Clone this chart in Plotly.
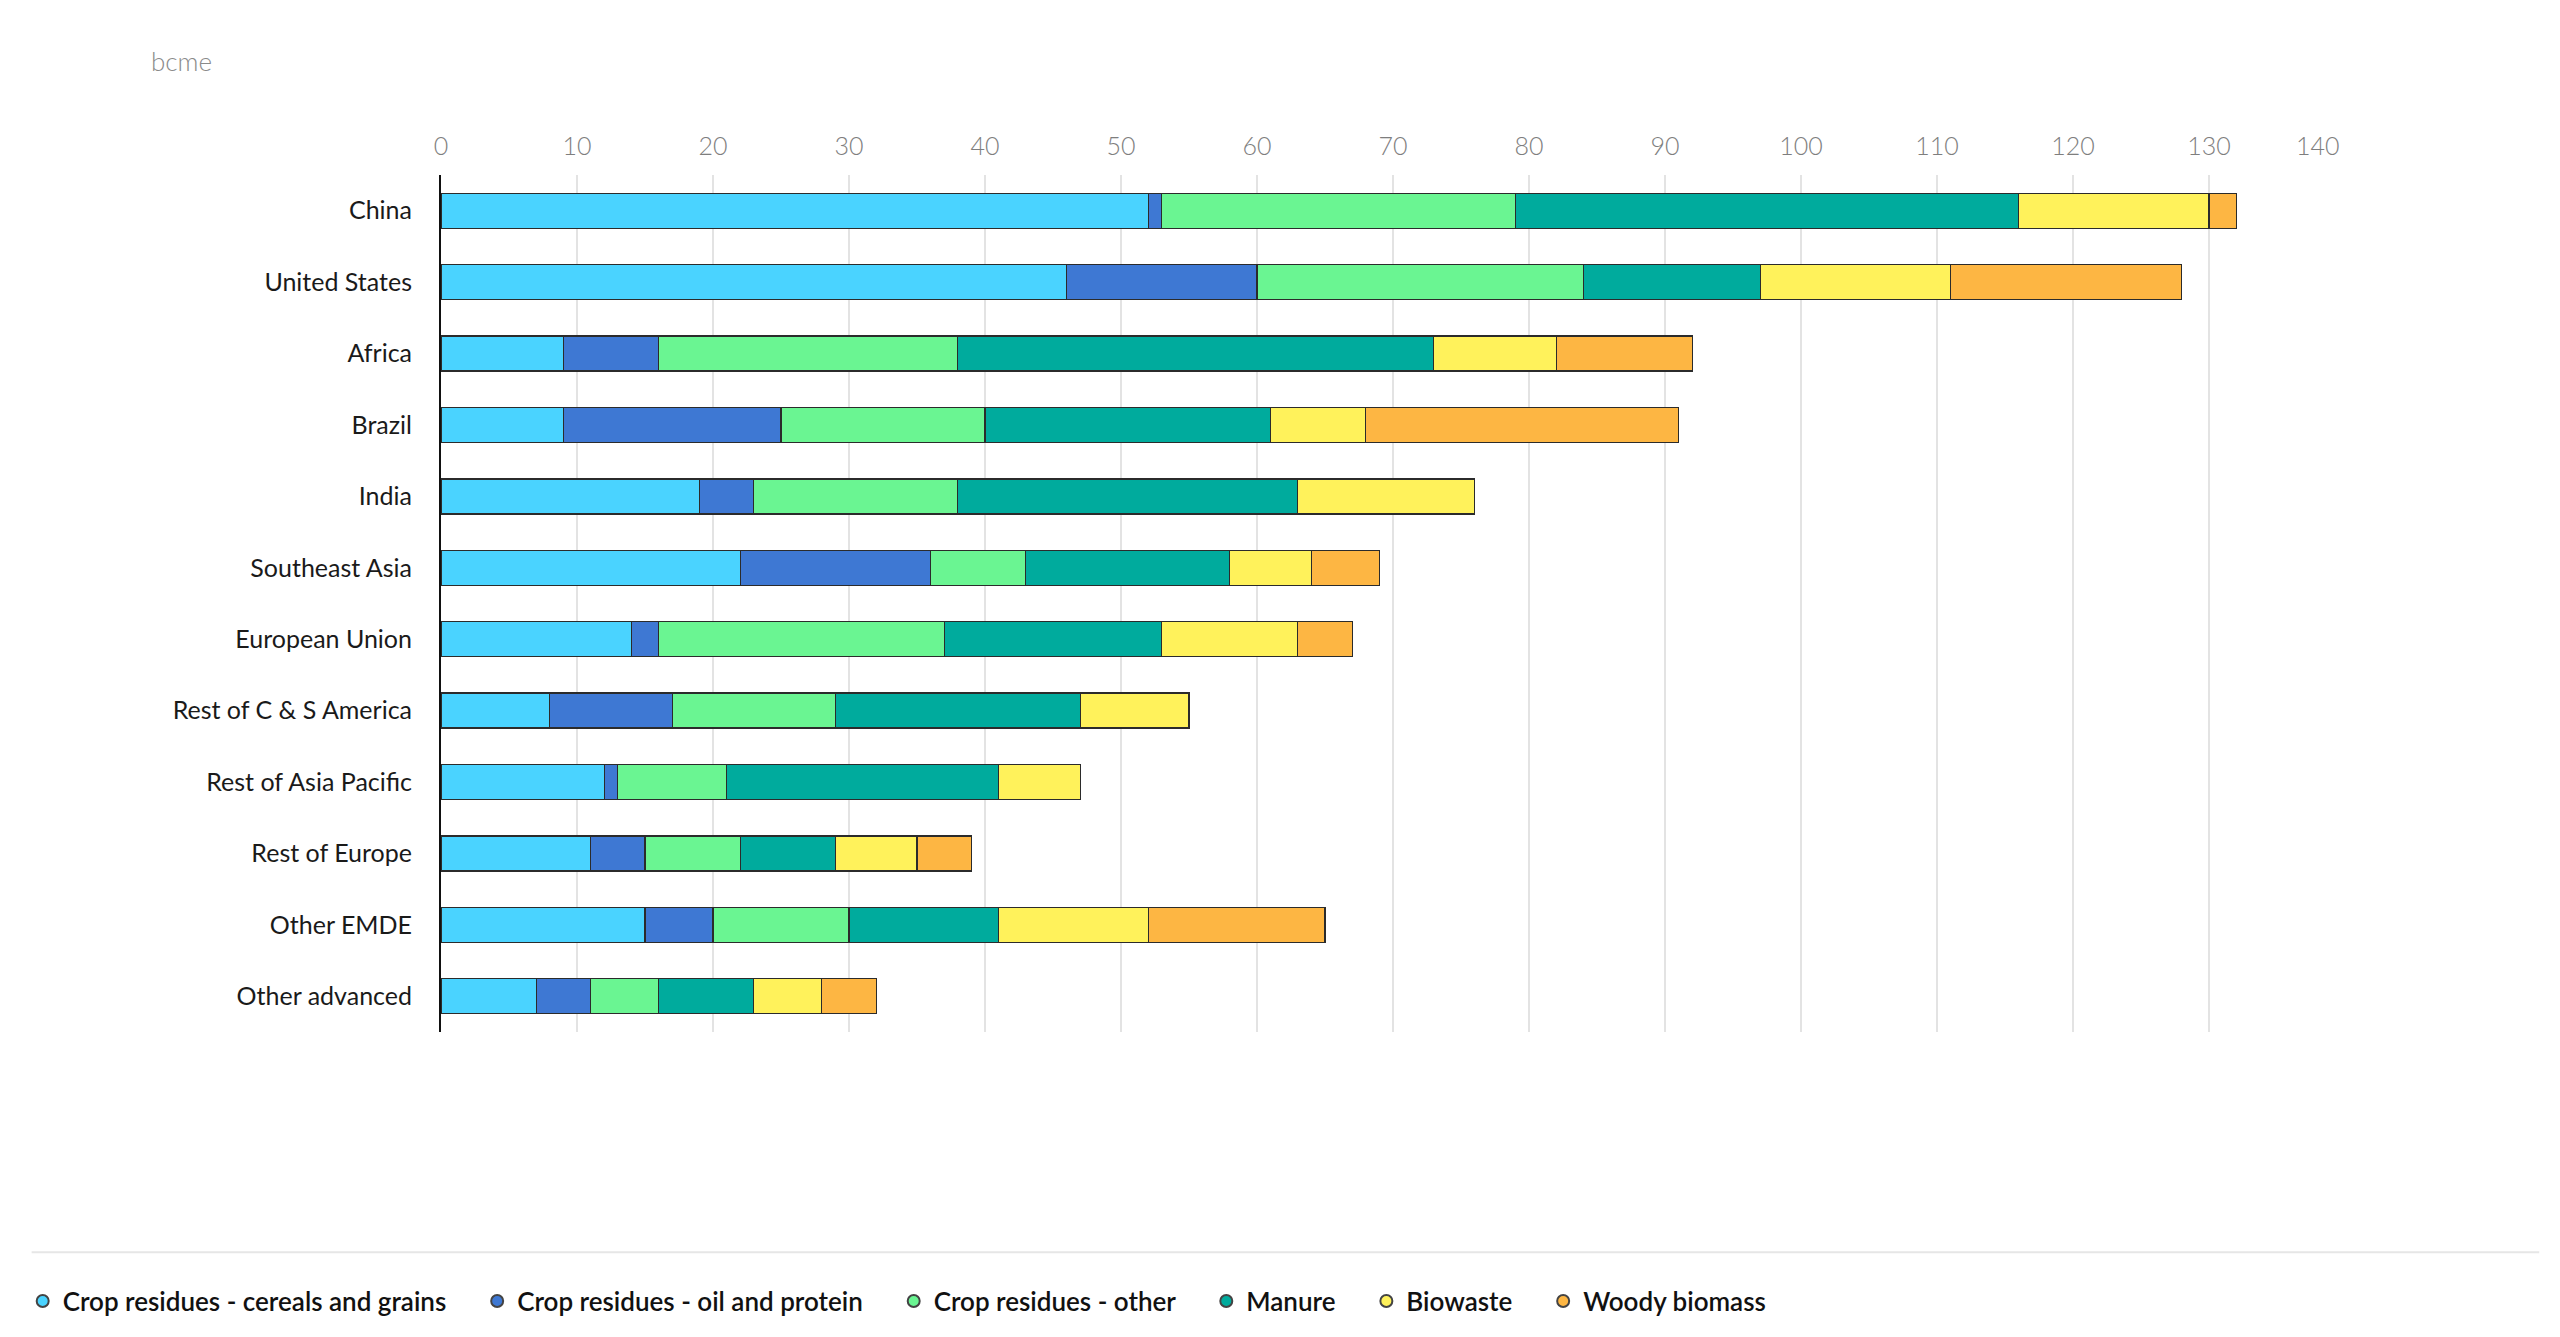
import plotly.graph_objects as go

regions = ["China", "United States", "Africa", "Brazil", "India", "Southeast Asia",
           "European Union", "Rest of C & S America", "Rest of Asia Pacific",
           "Rest of Europe", "Other EMDE", "Other advanced"]

series_names = ["Crop residues - cereals and grains", "Crop residues - oil and protein",
                "Crop residues - other", "Manure", "Biowaste", "Woody biomass"]

cereals = [52, 46, 9, 9, 19, 22, 14, 8, 12, 11, 15, 7]
oil_protein = [1, 14, 7, 16, 4, 14, 2, 9, 1, 4, 5, 4]
other_crop = [26, 24, 22, 15, 15, 7, 21, 12, 8, 7, 10, 5]
manure = [37, 13, 35, 21, 25, 15, 16, 18, 20, 7, 11, 7]
biowaste = [14, 14, 9, 7, 13, 6, 10, 8, 6, 6, 11, 5]
woody = [2, 17, 10, 23, 0, 5, 4, 0, 0, 4, 13, 4]

x_ticks = list(range(0, 141, 10))

colors = ["#4AD3FF", "#3E78D3", "#6AF592", "#00AB9D", "#FFF25B", "#FDB643"]

FONT = "Lato, Noto Sans, sans-serif"
NB = "\u00a0"

# last tick label nudged left so it stays inside the chart, as in the original
tick_text = [str(v) for v in x_ticks]
tick_text[-1] = tick_text[-1] + NB * 8

fig = go.Figure()
for i, (name, vals, col) in enumerate(zip(series_names,
                                          [cereals, oil_protein, other_crop, manure, biowaste, woody],
                                          colors)):
    fig.add_trace(go.Bar(
        y=regions, x=vals, orientation="h", name=name,
        marker=dict(color=col, line=dict(color="#2b2b2b", width=1.3)),
        showlegend=False,
    ))
    fig.add_trace(go.Scatter(
        x=[None], y=[None], mode="markers",
        name=name + (NB * 4 if i < len(series_names) - 1 else ""),
        marker=dict(symbol="circle", size=18, color=col,
                    line=dict(color="#444444", width=1.3)),
        showlegend=True,
    ))

fig.update_layout(
    width=2552, height=1329,
    barmode="stack",
    bargap=0.51,
    paper_bgcolor="white",
    plot_bgcolor="white",
    margin=dict(l=433, r=215, t=167, b=298),
    font=dict(family=FONT, color="#222222"),
    xaxis=dict(
        side="top", range=[0, 140], tickvals=x_ticks, ticktext=tick_text,
        showgrid=True, gridcolor="#e3e3e3", gridwidth=1.5,
        zeroline=False, showline=False,
        tickfont=dict(size=25, color="#7e7e7e", family=FONT, weight=300),
        ticklabelstandoff=14,
    ),
    yaxis=dict(
        categoryorder="array", categoryarray=regions, autorange="reversed",
        showline=True, linecolor="#111111", linewidth=2,
        showgrid=False, zeroline=False,
        tickfont=dict(size=25, color="#1a1a1a", family=FONT),
        ticklabelstandoff=22,
    ),
    legend=dict(
        orientation="h", x=-0.2197, y=-0.314, xanchor="left", yanchor="middle",
        font=dict(size=26, color="#111111", family=FONT, weight=600),
        itemsizing="constant", itemwidth=30, traceorder="normal",
        bgcolor="rgba(0,0,0,0)",
    ),
    annotations=[dict(
        text="bcme", x=-0.1535, y=1.133, xref="paper", yref="paper",
        xanchor="left", yanchor="middle", showarrow=False,
        font=dict(size=26, color="#8a8a8a", family=FONT, weight=300),
    )],
    shapes=[dict(
        type="line", xref="paper", yref="paper",
        x0=-0.215, x1=1.102, y0=-0.257, y1=-0.257,
        line=dict(color="#e6e6e6", width=2),
    )],
)

fig.write_html("out.html")
